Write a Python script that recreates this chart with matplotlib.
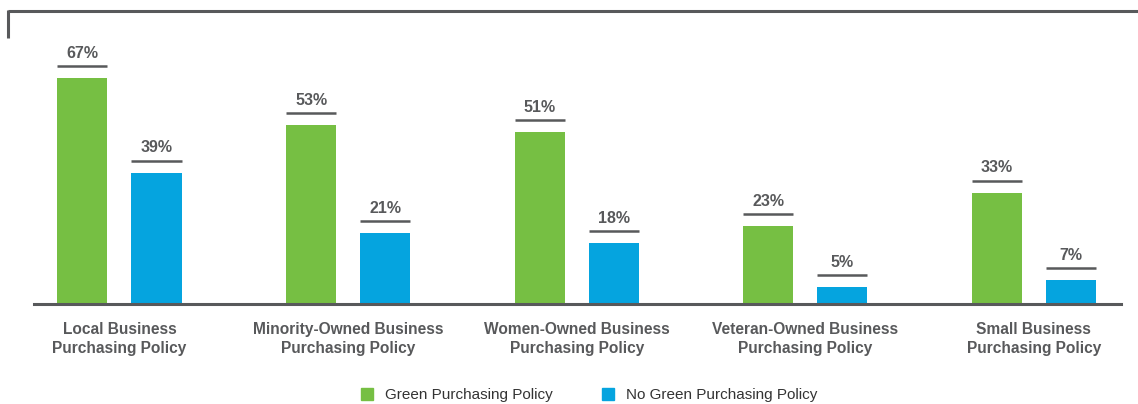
import numpy as np
import matplotlib.pyplot as plt
from matplotlib.lines import Line2D
from matplotlib.patches import Patch

categories = ["Local Business\nPurchasing Policy",
              "Minority-Owned Business\nPurchasing Policy",
              "Women-Owned Business\nPurchasing Policy",
              "Veteran-Owned Business\nPurchasing Policy",
              "Small Business\nPurchasing Policy"]
green_policy = [67, 53, 51, 23, 33]
no_green_policy = [39, 21, 18, 5, 7]
series_names = ["Green Purchasing Policy", "No Green Purchasing Policy"]

GREEN = "#76bf43"
BLUE = "#05a4df"
GREY = "#58595b"

plt.rcParams['font.family'] = ['Liberation Sans', 'DejaVu Sans']

W, H = 1138, 404
fig = plt.figure(figsize=(W / 100, H / 100), dpi=100)
ax = fig.add_axes([34 / W, (H - 304) / H, (1121 - 34) / W, (304 - 11) / H])

x = np.arange(len(categories))
bw = 0.219
off = 0.162
ax.bar(x - off, green_policy, bw, color=GREEN)
ax.bar(x + off, no_green_policy, bw, color=BLUE)

px = 3.37  # pixels per percentage point
for xs, vals in ((x - off, green_policy), (x + off, no_green_policy)):
    for xi, v in zip(xs, vals):
        ly = v + 12 / px
        ax.plot([xi - bw / 2, xi + bw / 2], [ly, ly], color=GREY, lw=1.8,
                solid_capstyle='butt')
        ax.text(xi, v + 25 / px, f"{v}%", ha='center', va='center',
                fontsize=11.5, fontweight='bold', color=GREY)

ax.set_xlim(-0.374, 4.381)
ax.set_ylim(0, (304 - 11) / px)
for s in ("top", "left", "right"):
    ax.spines[s].set_visible(False)
ax.spines["bottom"].set_color(GREY)
ax.spines["bottom"].set_linewidth(2.2)
ax.set_yticks([])
ax.set_xticks(x)
ax.set_xticklabels(categories, fontsize=11.2, fontweight='bold', color=GREY,
                   linespacing=1.3)
ax.tick_params(axis='x', length=0, pad=13)

# frame line at the top
fig.add_artist(Line2D([8 / W, 1.0], [(H - 11) / H] * 2, color=GREY, lw=2.2,
                      solid_capstyle='butt'))
fig.add_artist(Line2D([8 / W, 8 / W], [(H - 10) / H, (H - 38) / H], color=GREY,
                      lw=2.2, solid_capstyle='butt'))

handles = [Patch(color=GREEN), Patch(color=BLUE)]
fig.legend(handles, series_names, loc='center', bbox_to_anchor=(589 / W, 9 / H),
           ncol=2, frameon=False, fontsize=11, handlelength=0.8,
           handleheight=0.8, handletextpad=0.8, columnspacing=3.2,
           labelcolor='#333333')

fig.savefig("out.png", dpi=100)
